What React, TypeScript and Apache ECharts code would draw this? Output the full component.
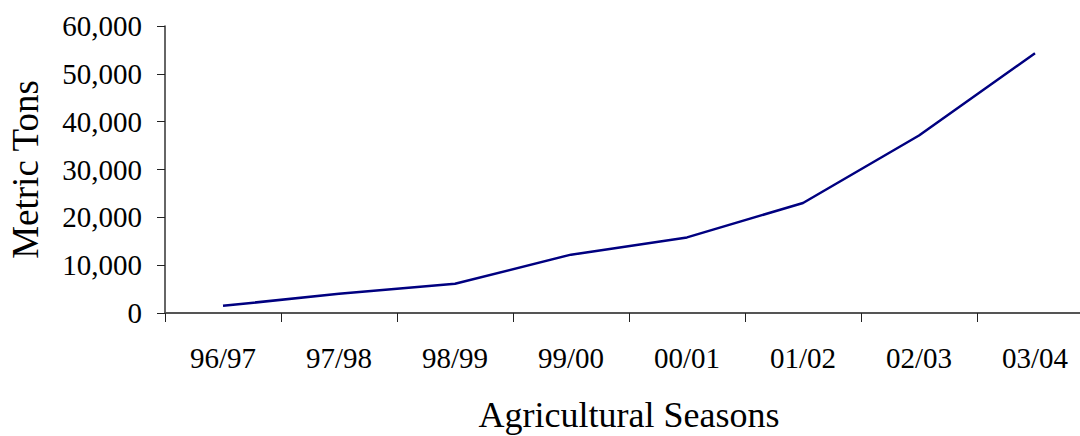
import React, { useEffect, useRef } from "react";
import * as echarts from "echarts";

// Agricultural seasons on the category axis
const seasons = ["96/97", "97/98", "98/99", "99/00", "00/01", "01/02", "02/03", "03/04"];
// Production in metric tons per season
const tons = [1500, 4000, 6100, 12200, 15800, 23000, 37100, 54300];
// Value axis range
const yMin = 0;
const yMax = 60000;
const yStep = 10000;

const FONT = "'Liberation Serif', 'Times New Roman', serif";

export default function App() {
  const ref = useRef<HTMLDivElement>(null);

  useEffect(() => {
    if (!ref.current) return;
    const chart = echarts.init(ref.current, undefined, { renderer: "svg" });
    chart.setOption({
      animation: false,
      backgroundColor: "#ffffff",
      grid: {
        left: 165,
        top: 26,
        bottom: 123,
        width: 928,
        containLabel: false,
        outerBoundsMode: "none",
      },
      xAxis: {
        type: "category",
        data: seasons,
        boundaryGap: true,
        name: "Agricultural Seasons",
        nameLocation: "middle",
        nameGap: 84,
        nameTextStyle: { fontFamily: FONT, fontSize: 36, color: "#000" },
        axisLine: { lineStyle: { color: "#555", width: 2 } },
        axisTick: { show: true, length: 9, lineStyle: { color: "#222", width: 1 } },
        axisLabel: { fontFamily: FONT, fontSize: 29, color: "#000", margin: 30 },
        splitLine: { show: false },
      },
      yAxis: {
        type: "value",
        min: yMin,
        max: yMax,
        interval: yStep,
        name: "Metric Tons",
        nameLocation: "middle",
        nameGap: 121,
        nameRotate: 90,
        nameTextStyle: { fontFamily: FONT, fontSize: 37, color: "#000" },
        axisLine: { show: true, lineStyle: { color: "#333", width: 1.5 } },
        axisTick: { show: true, length: 8, lineStyle: { color: "#222", width: 1 } },
        axisLabel: {
          fontFamily: FONT,
          fontSize: 29,
          color: "#000",
          margin: 23,
          formatter: (v: number) => v.toLocaleString("en-US"),
        },
        splitLine: { show: false },
      },
      series: [
        {
          type: "line",
          data: tons,
          showSymbol: false,
          symbol: "none",
          lineStyle: { color: "#000080", width: 2.5 },
        },
      ],
    });
    return () => chart.dispose();
  }, []);

  return (
    <div
      ref={ref}
      style={{ position: "absolute", left: 0, top: 0, width: 1080, height: 436 }}
    />
  );
}
